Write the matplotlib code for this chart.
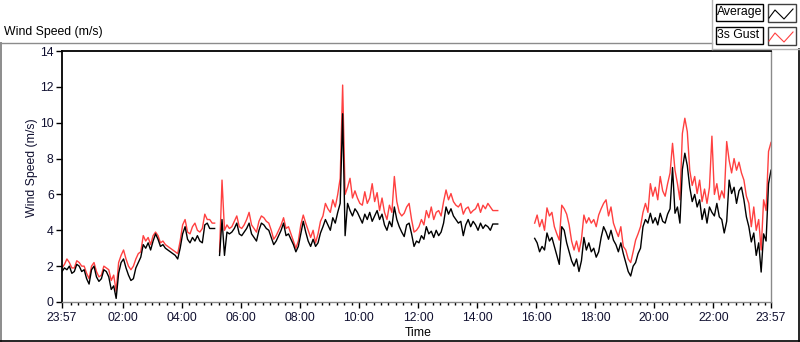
import numpy as np
import matplotlib
matplotlib.use('Agg')
import matplotlib.pyplot as plt
from matplotlib.lines import Line2D
from matplotlib.patches import Rectangle

nan = float('nan')

# 5-minute samples starting 23:57 (minutes offset = index * 5)
avg_speed = [
    1.7, 1.9, 1.8, 2.0, 1.6, 1.7, 2.1, 2.0, 1.7, 1.8, 1.3, 1.0,
    1.8, 2.0, 1.4, 1.15, 1.3, 1.8, 1.7, 1.4, 0.7, 0.9, 0.2, 1.6,
    2.2, 2.4, 1.9, 1.5, 1.2, 1.3, 1.9, 2.2, 2.5, 3.2, 3.0, 3.3,
    2.9, 3.4, 3.8, 3.5, 3.1, 3.2, 3.0, 2.9, 2.8, 2.7, 2.6, 2.4,
    3.0, 3.8, 4.2, 3.5, 3.3, 3.6, 3.4, 3.7, 3.4, 3.3, 4.3, 4.4,
    4.1, 4.1, 4.1, nan, 2.6, 4.6, 2.6, 3.9, 3.8, 3.9, 4.1, 4.4,
    3.8, 3.7, 3.9, 4.1, 4.4, 3.8, 3.6, 3.4, 4.0, 4.4, 4.3, 4.1,
    4.0, 3.6, 3.2, 3.4, 3.7, 4.0, 4.4, 3.7, 3.8, 3.5, 3.2, 2.8,
    3.1, 3.8, 4.5, 3.9, 3.4, 3.1, 3.5, 3.1, 3.3, 3.85, 4.2, 4.6,
    4.3, 4.0, 4.7, 4.4, 5.0, 5.5, 10.5, 3.7, 5.5, 5.1, 4.8, 5.2,
    5.0, 4.7, 4.4, 4.9, 4.6, 5.0, 4.5, 4.8, 5.1, 4.6, 4.9, 4.3,
    4.0, 4.5, 4.2, 5.3, 4.6, 4.2, 3.9, 3.65, 4.3, 4.4, 3.8, 3.1,
    3.4, 3.3, 3.7, 3.5, 4.2, 3.8, 3.95, 3.6, 4.0, 3.7, 3.9, 4.4,
    5.3, 4.9, 5.2, 4.8, 4.6, 4.4, 4.5, 3.7, 4.3, 4.6, 4.2, 4.5,
    4.3, 4.0, 4.4, 4.1, 4.3, 4.2, 4.0, 4.35, 4.35, 4.35,
    nan, nan, nan, nan, nan, nan, nan, nan, nan, nan, nan, nan, nan, nan,
    3.55, 3.3, 2.8, 3.1, 2.9, 3.85, 3.4, 3.6, 3.1, 2.6, 2.1, 4.2,
    4.0, 3.3, 2.8, 2.3, 2.0, 2.4, 1.7, 2.3, 3.6, 2.9, 3.3, 2.8,
    3.0, 2.5, 2.8, 3.6, 4.2, 3.9, 3.5, 4.0, 3.45, 3.2, 2.8, 3.3,
    2.7, 2.2, 1.7, 1.45, 2.0, 2.2, 2.7, 3.0, 4.2, 4.6, 4.4, 4.95,
    4.4, 4.7, 4.3, 4.95, 4.5, 4.4, 4.9, 5.2, 7.5, 4.95, 5.3, 4.4,
    7.4, 8.3, 7.6, 6.4, 5.6, 6.0, 5.3, 5.7, 4.6, 5.2, 4.4, 5.3,
    5.0, 4.8, 5.5, 4.75, 4.6, 3.85, 4.5, 6.8, 6.05, 6.4, 5.5, 6.2,
    6.4, 5.7, 4.75, 4.2, 3.35, 3.85, 2.6, 3.3, 1.67, 3.8, 3.4, 6.6, 7.35,
]

gust_speed = [
    1.9, 2.1, 2.4, 2.2, 1.9, 1.9, 2.3, 2.2, 2.0, 2.0, 1.6, 1.3,
    2.0, 2.2, 1.7, 1.4, 1.5, 2.0, 1.9, 1.8, 1.2, 1.5, 0.6, 2.2,
    2.6, 2.9, 2.4, 2.0, 1.8, 2.0, 2.4, 2.7, 2.8, 3.7, 3.4, 3.6,
    3.2, 3.7, 3.9, 3.7, 3.3, 3.4, 3.2, 3.1, 3.0, 2.9, 2.8, 2.7,
    3.4, 4.3, 4.6, 3.9, 3.8, 4.2, 4.4, 4.0, 3.9, 4.1, 4.9, 4.6,
    4.6, 4.4, 4.4, nan, 2.8, 6.8, 4.0, 4.3, 4.1, 4.2, 4.5, 4.8,
    4.2, 4.1, 4.3, 4.6, 5.0, 4.3, 4.1, 3.9, 4.5, 4.8, 4.7, 4.5,
    4.4, 4.0, 3.5, 3.7, 4.0, 4.3, 4.7, 4.1, 4.2, 3.8, 3.4, 3.0,
    3.4, 4.3, 4.85, 4.4, 4.0, 3.6, 4.0, 3.3, 3.8, 4.5, 4.8, 5.5,
    5.2, 5.0, 5.7, 5.3, 6.0, 6.9, 12.1, 6.0, 6.4, 6.9, 5.8, 6.2,
    5.8, 5.5, 5.4, 6.15, 5.5, 5.8, 6.6, 5.6, 6.1, 5.1, 5.8, 5.0,
    4.6, 5.4, 5.0, 7.0, 5.6, 5.0, 4.8, 4.95, 5.3, 5.5, 4.6, 3.9,
    4.0, 4.2, 4.6, 4.3, 5.1, 4.7, 5.3, 4.6, 5.0, 5.1, 4.8, 5.6,
    6.25, 5.7, 6.05, 5.6, 5.4, 5.3, 5.5, 4.9, 5.2, 5.3, 4.95, 5.1,
    5.2, 5.5, 5.0, 5.4, 5.2, 5.5, 5.3, 5.1, 5.1, 5.1,
    nan, nan, nan, nan, nan, nan, nan, nan, nan, nan, nan, nan, nan, nan,
    4.4, 4.85, 4.2, 4.6, 4.0, 5.25, 4.8, 5.0, 4.2, 3.8, 3.45, 5.4,
    5.2, 4.9, 4.3, 3.4, 2.9, 3.4, 2.8, 3.5, 4.85, 4.4, 4.7, 4.4,
    4.6, 4.2, 4.85, 5.2, 5.5, 5.7, 4.8, 5.3, 4.4, 4.0, 3.65, 4.2,
    3.1, 2.9, 2.4, 2.2, 2.8, 3.45, 3.8, 4.2, 5.0, 5.5, 5.0, 6.6,
    5.9, 6.4, 5.7, 7.0, 6.2, 5.9, 6.6, 7.2, 8.85, 7.35, 6.6, 5.7,
    9.4, 10.25, 9.5, 7.35, 6.5, 7.0, 6.05, 6.8, 5.6, 6.3, 5.5, 6.4,
    9.25, 6.0, 6.6, 5.7, 6.2, 5.8, 8.95, 7.9, 7.2, 8.0, 7.35, 7.8,
    7.2, 6.8, 5.9, 5.5, 4.2, 5.3, 4.0, 4.6, 2.9, 5.7, 5.1, 8.4, 8.9,
]

step_min = 5
start_time = "23:57"
major_labels = ["23:57", "02:00", "04:00", "06:00", "08:00", "10:00", "12:00",
                "14:00", "16:00", "18:00", "20:00", "22:00", "23:57"]
y_ticks = [0, 2, 4, 6, 8, 10, 12, 14]

FONT = "Liberation Sans"
plt.rcParams['font.family'] = [FONT, 'DejaVu Sans']

W, H = 800, 342
fig = plt.figure(figsize=(8, 3.42), dpi=100)


def fx(px):
    return px / W


def fy(py):
    return 1 - py / H


def tod(s):
    h, m = s.split(":")
    return int(h) * 60 + int(m)


t0 = tod(start_time)
minutes = np.arange(len(avg_speed)) * step_min

major_pos = [(tod(s) - t0) % 1440 for s in major_labels]
major_pos[-1] = 1440
minor_pos = [((k * 15) - t0) % 1440 for k in range(96)]
minor_pos = [p for p in minor_pos if p not in major_pos and p > 4]

ax = fig.add_axes([fx(62), fy(302), fx(771) - fx(62), fy(51) - fy(302)])
ax.plot(minutes, gust_speed, color='#ff4040', lw=1.0)
ax.plot(minutes, avg_speed, color='black', lw=1.0)
ax.set_xlim(0, 1440)
ax.set_ylim(0, 14)
ax.set_xticks(major_pos)
ax.set_xticklabels(major_labels)
ax.set_xticks(minor_pos, minor=True)
ax.set_yticks(y_ticks)
ax.set_yticklabels([str(v) for v in y_ticks])
ax.tick_params(axis='both', which='major', direction='out', length=4, width=1,
               color='black', labelsize=8.8, labelcolor='#101030', pad=2)
ax.tick_params(axis='x', which='minor', direction='out', length=2.5, width=1, color='black')
ax.tick_params(axis='x', which='major', pad=3)
for side in ['top', 'left']:
    ax.spines[side].set_color('black')
    ax.spines[side].set_linewidth(1.3)
for side in ['right', 'bottom']:
    ax.spines[side].set_color('#8a8a8a')
    ax.spines[side].set_linewidth(1.0)

# outer panel frame
def fline(x0, y0, x1, y1, color, lw=1.0):
    fig.add_artist(Line2D([fx(x0), fx(x1)], [fy(y0), fy(y1)], color=color, lw=lw,
                          transform=fig.transFigure))

fline(0, 42.5, 712, 42.5, '#8c8c8c')
fline(0.7, 42.5, 0.7, 341, '#8c8c8c', 1.4)
fline(0, 340.5, 800, 340.5, 'black', 1.2)
fline(798.5, 48.5, 798.5, 341, 'black', 1.2)
fline(711.5, 0, 711.5, 48.5, '#b4b4b4')
fline(711.5, 48.5, 799, 48.5, '#b4b4b4')

fig.text(fx(4), fy(32), "Wind Speed (m/s)", fontsize=8.8, ha='left', va='center', color='black')
fig.text(fx(32), fy(168), "Wind Speed (m/s)", fontsize=8.8, rotation=90,
         ha='center', va='center', color='#101030')
fig.text(fx(418), fy(333), "Time", fontsize=8.8, ha='center', va='center', color='black')

# legend
legend_names = ["Average", "3s Gust"]
legend_colors = ['black', '#ff4040']
for k, (name, col) in enumerate(zip(legend_names, legend_colors)):
    y0 = 4 + 23 * k
    fig.add_artist(Rectangle((fx(715.5), fy(y0 + 17)), fx(47), fy(y0) - fy(y0 + 17),
                             transform=fig.transFigure, fill=True, facecolor='white',
                             edgecolor='black', lw=1.0))
    fig.text(fx(717), fy(y0 + 8.5), name, fontsize=8.8, ha='left', va='center', color='black')
    fig.add_artist(Rectangle((fx(767.5), fy(y0 + 18)), fx(28), fy(y0) - fy(y0 + 18),
                             transform=fig.transFigure, fill=True, facecolor='white',
                             edgecolor='#404040', lw=1.0))
    zx = [769, 775, 784, 793]
    zy = [y0 + 14, y0 + 6, y0 + 15, y0 + 5]
    fig.add_artist(Line2D([fx(v) for v in zx], [fy(v) for v in zy], color=col, lw=0.8,
                          transform=fig.transFigure))

fig.savefig("out.png", dpi=100)
